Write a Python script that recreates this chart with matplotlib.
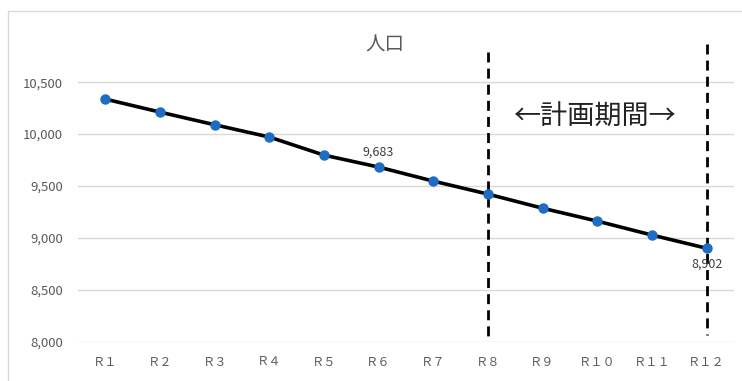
import matplotlib.pyplot as plt
from matplotlib.patches import Rectangle

plt.rcParams['font.family'] = ['Noto Sans CJK JP', 'DejaVu Sans']

labels = ["Ｒ１", "Ｒ２", "Ｒ３", "Ｒ４", "Ｒ５", "Ｒ６", "Ｒ７", "Ｒ８", "Ｒ９", "Ｒ１０", "Ｒ１１", "Ｒ１２"]
population = [10337, 10212, 10090, 9972, 9798, 9683, 9548, 9423, 9287, 9163, 9029, 8902]
labeled = {5: "above", 11: "below"}
plan_start, plan_end = 7, 11

fig = plt.figure(figsize=(7.42, 3.81), dpi=100)
ax = fig.add_axes([0.1051, 0.1024, 0.884, 0.7638])

# chart border
fig.patches.append(Rectangle((8 / 742, -0.05), 1.0, 1 - 11 / 381 + 0.05, transform=fig.transFigure,
                             fill=False, edgecolor='#d9d9d9', linewidth=1.0))

x = list(range(len(labels)))
ax.plot(x, population, color='black', linewidth=2.6, zorder=3)
ax.plot(x, population, linestyle='none', marker='o', markersize=6.5,
        color='#1f6cc4', zorder=4)

for i, pos in labeled.items():
    dy = 6 if pos == "above" else -7
    ax.annotate(f"{population[i]:,}", (i, population[i]), textcoords='offset points',
                xytext=(0, dy), ha='center', va='bottom' if pos == "above" else 'top',
                fontsize=9, color='#404040', zorder=5)

ax.set_xlim(-0.5, len(labels) - 0.5)
ax.set_ylim(8000, 10800)
ticks = [8000, 8500, 9000, 9500, 10000, 10500]
ax.set_yticks(ticks)
ax.set_yticklabels([f"{v:,}" for v in ticks])
ax.set_xticks(x)
ax.set_xticklabels(labels)
ax.grid(axis='y', color='#d9d9d9', linewidth=1.0)
ax.set_axisbelow(True)
for s in ax.spines.values():
    s.set_visible(False)
ax.tick_params(axis='y', length=0, labelsize=9.5, labelcolor='#595959', pad=11)
ax.tick_params(axis='x', length=0, labelsize=8.8, labelcolor='#595959', pad=17)
for lab in ax.get_xticklabels():
    lab.set_verticalalignment('baseline')

# planning period markers (drawn top-down so the dash pattern starts at the top)
dash = (0, (3.6, 2.2))
ax.plot([plan_start, plan_start], [10790, 8000], color='black', linestyle=dash,
        linewidth=2.0, zorder=2, clip_on=False)
ax.plot([plan_end, plan_end], [10870, 8070], color='black', linestyle=dash,
        linewidth=2.0, zorder=2, clip_on=False)
ax.text((plan_start + plan_end) / 2 - 0.05, 10165, "←計画期間→", ha='center', va='center',
        fontsize=19.5, color='#222222')

fig.text(385 / 742, 1 - 45 / 381, "人口", ha='center', va='center', fontsize=14, color='#595959')

fig.savefig('out.png', dpi=100)
